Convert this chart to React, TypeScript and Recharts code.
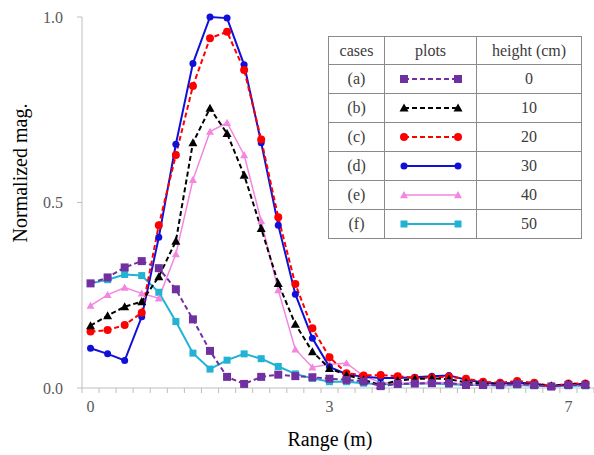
import React from 'react';
import { LineChart, Line, XAxis, YAxis, Label } from 'recharts';

// normalized magnitude per range bin, one array per antenna height
const caseA = [0.282, 0.298, 0.325, 0.342, 0.323, 0.266, 0.185, 0.1, 0.03, 0.011, 0.03, 0.036, 0.032, 0.029, 0.025, 0.022, 0.018, 0.005, 0.011, 0.012, 0.013, 0.013, 0.008, 0.008, 0.008, 0.011, 0.008, 0.004, 0.008, 0.008];
const caseB = [0.168, 0.195, 0.219, 0.233, 0.3, 0.396, 0.661, 0.754, 0.686, 0.574, 0.43, 0.282, 0.172, 0.098, 0.053, 0.035, 0.022, 0.008, 0.02, 0.024, 0.026, 0.024, 0.015, 0.012, 0.01, 0.012, 0.01, 0.006, 0.01, 0.01];
const caseC = [0.152, 0.156, 0.17, 0.203, 0.439, 0.628, 0.814, 0.943, 0.96, 0.857, 0.67, 0.46, 0.28, 0.161, 0.083, 0.04, 0.034, 0.035, 0.032, 0.027, 0.028, 0.03, 0.025, 0.017, 0.014, 0.019, 0.014, 0.005, 0.012, 0.012];
const caseD = [0.107, 0.092, 0.074, 0.192, 0.406, 0.657, 0.875, 1.0, 0.997, 0.871, 0.661, 0.439, 0.253, 0.134, 0.057, 0.037, 0.03, 0.027, 0.027, 0.029, 0.032, 0.034, 0.022, 0.015, 0.012, 0.014, 0.012, 0.004, 0.01, 0.01];
const caseE = [0.222, 0.251, 0.271, 0.255, 0.242, 0.361, 0.561, 0.691, 0.715, 0.628, 0.45, 0.264, 0.104, 0.056, 0.064, 0.067, 0.032, 0.015, 0.012, 0.014, 0.015, 0.014, 0.01, 0.01, 0.008, 0.01, 0.008, 0.004, 0.008, 0.008];
const caseF = [0.282, 0.292, 0.306, 0.303, 0.258, 0.179, 0.094, 0.051, 0.075, 0.092, 0.079, 0.058, 0.038, 0.026, 0.017, 0.017, 0.013, 0.01, 0.01, 0.012, 0.012, 0.01, 0.008, 0.008, 0.006, 0.008, 0.006, 0.004, 0.006, 0.006];

const caseLabels = ['(a)', '(b)', '(c)', '(d)', '(e)', '(f)'];
const heightLabels = ['0', '10', '20', '30', '40', '50'];

// category index where a range label is shown
const xLabelIdx = [0, 14, 28];
const xLabelText = ['0', '3', '7'];
const yTicks = [0, 0.5, 1];

const FONT = 'Liberation Serif, Tinos, DejaVu Serif, Times New Roman, serif';
const AXIS_GRAY = '#BFBFBF';
const TICK_TEXT = '#595959';

type MarkerKind = 'square' | 'triangle' | 'circle';

interface SeriesStyle {
  key: string;
  color: string;
  dash?: string;
  marker: MarkerKind;
  size: number;
  width: number;
}

// same order as caseLabels
const styles: SeriesStyle[] = [
  { key: 'a', color: '#7030A0', dash: '5 3', marker: 'square', size: 8, width: 2 },
  { key: 'b', color: '#000000', dash: '5 3', marker: 'triangle', size: 9, width: 2 },
  { key: 'c', color: '#FF0000', dash: '5 3', marker: 'circle', size: 8, width: 2 },
  { key: 'd', color: '#1010D8', marker: 'circle', size: 7, width: 2 },
  { key: 'e', color: '#F286E0', marker: 'triangle', size: 8, width: 1.5 },
  { key: 'f', color: '#22B2D4', marker: 'square', size: 7, width: 2 },
];

const data = caseA.map((_, i) => ({
  idx: i,
  a: caseA[i],
  b: caseB[i],
  c: caseC[i],
  d: caseD[i],
  e: caseE[i],
  f: caseF[i],
}));

// minor tick marks sit between categories, labels sit on them
const xTicks = [
  ...Array.from({ length: caseA.length + 1 }, (_, i) => i - 0.5),
  ...xLabelIdx,
].sort((p, q) => p - q);

const Marker = ({ cx, cy, kind, size, color }: { cx?: number; cy?: number; kind: MarkerKind; size: number; color: string }) => {
  if (cx == null || cy == null) return null;
  const h = size / 2;
  if (kind === 'square') return <rect x={cx - h} y={cy - h} width={size} height={size} fill={color} />;
  if (kind === 'circle') return <circle cx={cx} cy={cy} r={h} fill={color} />;
  return <polygon points={`${cx},${cy - h} ${cx + h},${cy + h * 0.8} ${cx - h},${cy + h * 0.8}`} fill={color} />;
};

const XTick = (props: any) => {
  const { x, y, payload } = props;
  const li = xLabelIdx.indexOf(payload.value);
  if (li >= 0) {
    return (
      <text x={x} y={y + 13} dy="0.71em" textAnchor="middle" fill={TICK_TEXT} fontFamily={FONT} fontSize={16}>
        {xLabelText[li]}
      </text>
    );
  }
  return <line x1={x} y1={y} x2={x} y2={y + 5} stroke={AXIS_GRAY} />;
};

const cellStyle = (w: number): React.CSSProperties => ({
  width: w,
  padding: 0,
  border: '1.5px solid #8a8a8a',
  textAlign: 'center',
  verticalAlign: 'middle',
});

const Sample = ({ s }: { s: SeriesStyle }) => (
  <svg width={64} height={14} style={{ display: 'block', margin: '0 auto' }}>
    <line x1={5} y1={7} x2={59} y2={7} stroke={s.color} strokeWidth={s.width} strokeDasharray={s.dash} />
    <Marker cx={5} cy={7} kind={s.marker} size={s.size} color={s.color} />
    <Marker cx={59} cy={7} kind={s.marker} size={s.size} color={s.color} />
  </svg>
);

const CaseTable = () => (
  <table
    style={{
      position: 'absolute',
      left: 328,
      top: 36,
      borderCollapse: 'collapse',
      tableLayout: 'fixed',
      background: '#fff',
      fontFamily: FONT,
      fontSize: 16,
      color: '#3c3c3c',
    }}
  >
    <tbody>
      <tr style={{ height: 28 }}>
        <td style={cellStyle(55)}>cases</td>
        <td style={cellStyle(91)}>plots</td>
        <td style={cellStyle(104)}>height (cm)</td>
      </tr>
      {styles.map((s, i) => (
        <tr key={s.key} style={{ height: 29 }}>
          <td style={cellStyle(55)}>{caseLabels[i]}</td>
          <td style={cellStyle(91)}><Sample s={s} /></td>
          <td style={cellStyle(104)}>{heightLabels[i]}</td>
        </tr>
      ))}
    </tbody>
  </table>
);

export default function App() {
  // Excel draws the later series first here, purple ends up on top
  const drawOrder = [...styles].reverse();
  return (
    <div style={{ position: 'absolute', left: 0, top: 0, width: 594, height: 455, background: '#fff' }}>
      <LineChart width={594} height={455} data={data} margin={{ top: 17, right: 0, left: 22, bottom: 37 }}>
        <XAxis
          dataKey="idx"
          type="number"
          domain={[-0.5, caseA.length - 0.5]}
          ticks={xTicks}
          interval={0}
          tick={<XTick />}
          tickLine={false}
          tickSize={0}
          tickMargin={0}
          stroke={AXIS_GRAY}
          height={30}
        >
          <Label
            content={() => (
              <text x={330} y={446} textAnchor="middle" fill="#000" fontFamily={FONT} fontSize={20}>
                Range (m)
              </text>
            )}
          />
        </XAxis>
        <YAxis
          domain={[0, 1]}
          ticks={yTicks}
          width={60}
          stroke={AXIS_GRAY}
          tickSize={5}
          tickMargin={14}
          tickFormatter={(v: number) => v.toFixed(1)}
          tick={{ fill: TICK_TEXT, fontSize: 16, fontFamily: FONT }}
        >
          <Label
            content={() => (
              <text x={27} y={173} transform="rotate(-90 27 173)" textAnchor="middle" fill="#000" fontFamily={FONT} fontSize={20}>
                Normalized mag.
              </text>
            )}
          />
        </YAxis>
        {drawOrder.map((s) => (
          <Line
            key={s.key}
            dataKey={s.key}
            stroke={s.color}
            strokeWidth={s.width}
            strokeDasharray={s.dash}
            isAnimationActive={false}
            dot={(p: any) => <Marker key={`${s.key}-${p.index}`} cx={p.cx} cy={p.cy} kind={s.marker} size={s.size} color={s.color} />}
            activeDot={false}
          />
        ))}
      </LineChart>
      <CaseTable />
    </div>
  );
}
